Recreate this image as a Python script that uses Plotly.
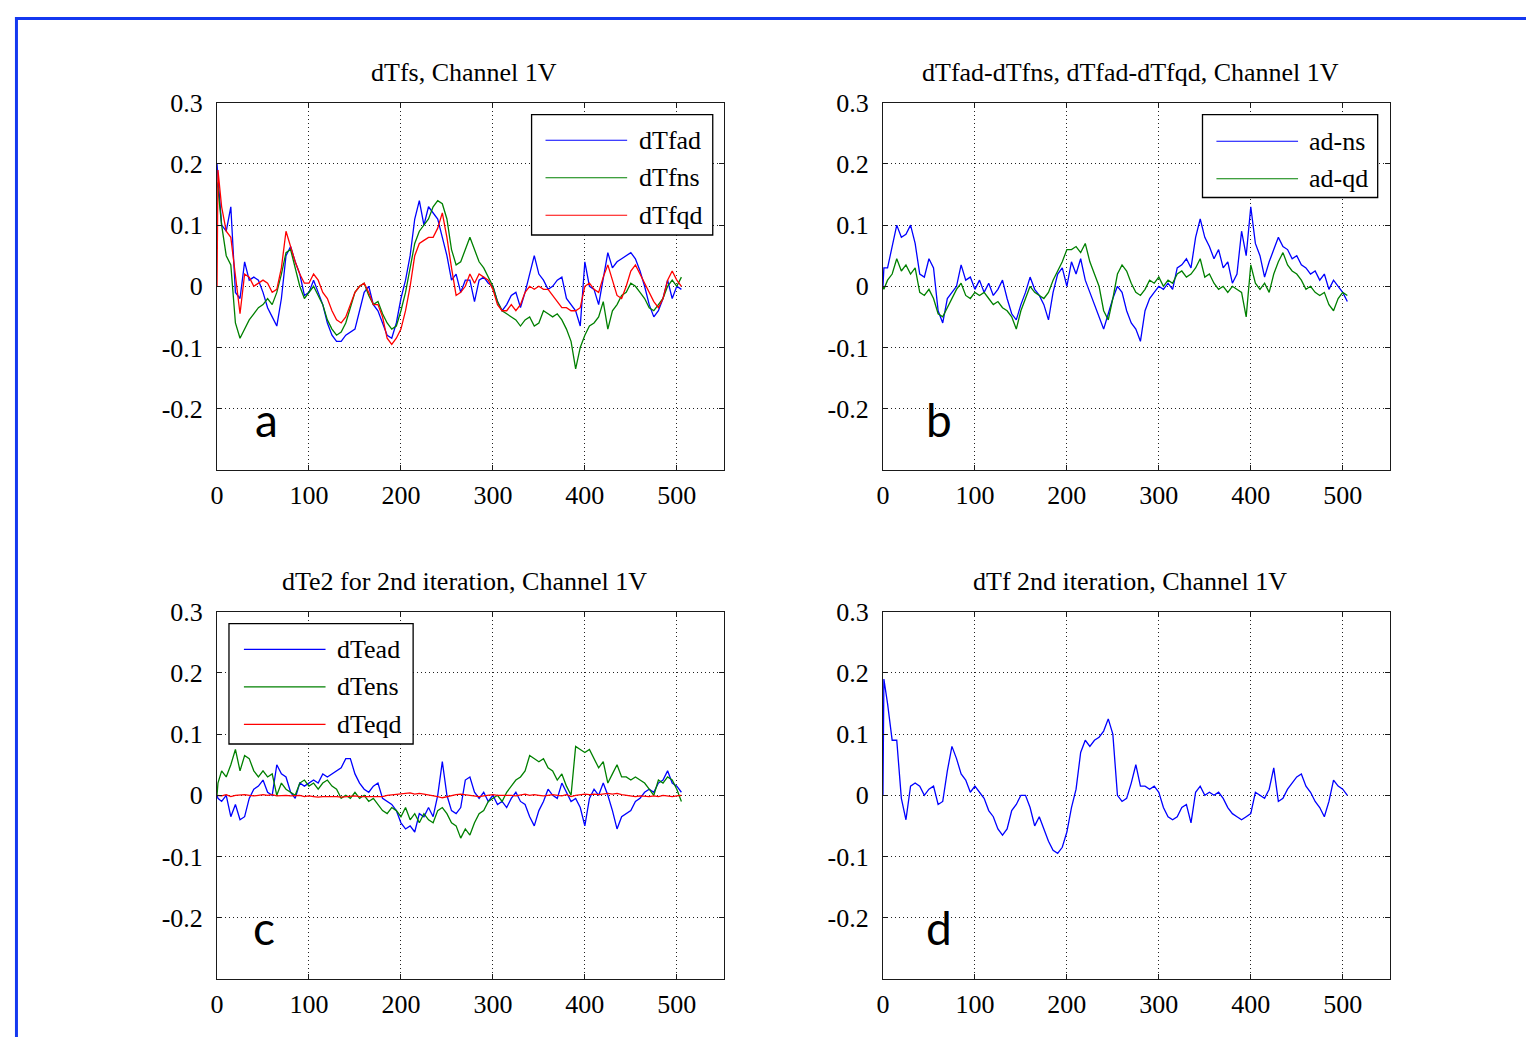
import plotly.graph_objects as go

W, H = 1526, 1037

# sample index (shared by every series)
t = [0, 1] + list(range(5, 506, 5))

# ---- panel a : dTfs, Channel 1V
dTfad = [0.20, 0.18,
         0.10, 0.09, 0.13, -0.01, -0.02, 0.04, 0.01, 0.015, 0.01, -0.01,
         -0.035, -0.05, -0.065, -0.02, 0.05, 0.065, 0.04, 0.02, -0.015, -0.01,
         0.01, -0.01, -0.03, -0.06, -0.08, -0.09, -0.09, -0.08, -0.075, -0.07,
         -0.04, -0.01, 0.0, -0.03, -0.04, -0.06, -0.08, -0.085, -0.06, -0.02,
         0.01, 0.05, 0.11, 0.14, 0.10, 0.13, 0.12, 0.11, 0.08, 0.05,
         0.01, 0.02, -0.01, 0.01, 0.01, -0.025, 0.01, 0.015, 0.005, 0.0,
         -0.025, -0.04, -0.03, -0.015, -0.01, -0.035, -0.01, 0.02, 0.05, 0.02,
         0.01, -0.005, 0.0, 0.01, 0.015, -0.02, -0.03, -0.04, -0.065, 0.04,
         0.0, -0.005, -0.03, 0.01, 0.055, 0.03, 0.04, 0.045, 0.05, 0.055,
         0.045, 0.025, 0.0, -0.03, -0.05, -0.04, -0.02, 0.01, -0.02, 0.0,
         -0.005]
dTfns = [0.17, 0.16,
         0.10, 0.05, 0.035, -0.06, -0.085, -0.07, -0.055, -0.045, -0.035, -0.03,
         -0.02, -0.03, -0.01, 0.02, 0.055, 0.06, 0.03, 0.0, -0.02, -0.01,
         0.0, -0.015, -0.03, -0.055, -0.07, -0.08, -0.075, -0.06, -0.035, -0.01,
         0.0, 0.005, -0.015, -0.03, -0.025, -0.045, -0.06, -0.07, -0.065, -0.04,
         -0.01, 0.03, 0.07, 0.09, 0.10, 0.11, 0.13, 0.14, 0.135, 0.11,
         0.06, 0.035, 0.04, 0.06, 0.08, 0.06, 0.04, 0.03, 0.015, 0.0,
         -0.025, -0.04, -0.045, -0.05, -0.055, -0.065, -0.055, -0.05, -0.065, -0.06,
         -0.04, -0.045, -0.05, -0.045, -0.055, -0.07, -0.09, -0.135, -0.10, -0.08,
         -0.065, -0.06, -0.05, -0.025, -0.07, -0.04, -0.03, -0.015, -0.01, 0.005,
         0.0, -0.01, -0.02, -0.035, -0.04, -0.03, -0.02, 0.0, 0.01, 0.0,
         0.015]
dTfqd = [0.0, 0.19,
         0.13, 0.09, 0.08, 0.02, -0.045, 0.02, 0.015, 0.0, 0.005, 0.01,
         0.005, -0.01, -0.005, 0.03, 0.09, 0.065, 0.04, 0.02, 0.005, 0.005,
         0.02, 0.01, -0.01, -0.02, -0.04, -0.055, -0.06, -0.05, -0.03, -0.01,
         0.0, 0.005, -0.01, -0.03, -0.03, -0.05, -0.085, -0.095, -0.085, -0.07,
         -0.04, 0.0, 0.05, 0.07, 0.075, 0.08, 0.08, 0.095, 0.12, 0.08,
         0.03, -0.015, -0.01, 0.0, 0.02, 0.005, 0.02, 0.015, 0.01, -0.005,
         -0.03, -0.04, -0.04, -0.03, -0.04, -0.03, -0.01, 0.0, -0.005, 0.0,
         -0.005, -0.005, -0.015, -0.025, -0.035, -0.035, -0.04, -0.04, -0.035, 0.0,
         0.005, -0.005, -0.01, 0.015, 0.035, 0.01, -0.015, -0.02, 0.0, 0.025,
         0.035, 0.02, 0.005, -0.01, -0.025, -0.035, -0.02, 0.01, 0.025, 0.01,
         0.0]

# ---- panel b : differences
ad_ns = [0.0, 0.03,
         0.03, 0.065, 0.10, 0.08, 0.085, 0.10, 0.07, 0.02, 0.015, 0.045,
         0.03, -0.04, -0.06, -0.02, -0.01, 0.0, 0.035, 0.01, 0.015, -0.005,
         0.01, -0.01, 0.005, -0.015, -0.005, 0.01, -0.02, -0.045, -0.055, -0.03,
         -0.01, 0.015, -0.005, -0.015, -0.03, -0.055, -0.01, 0.02, 0.03, 0.0,
         0.04, 0.02, 0.045, 0.01, -0.01, -0.03, -0.05, -0.07, -0.045, -0.02,
         0.0, -0.01, -0.04, -0.06, -0.07, -0.09, -0.04, -0.02, -0.01, 0.0,
         -0.005, 0.005, -0.005, 0.03, 0.035, 0.045, 0.03, 0.08, 0.11, 0.08,
         0.065, 0.045, 0.06, 0.03, 0.04, 0.005, 0.02, 0.09, 0.05, 0.13,
         0.07, 0.05, 0.015, 0.04, 0.06, 0.08, 0.065, 0.06, 0.045, 0.05,
         0.035, 0.03, 0.02, 0.025, 0.01, 0.02, -0.005, 0.01, 0.0, -0.01,
         -0.025]
ad_qd = [0.0, -0.005,
         0.01, 0.02, 0.045, 0.025, 0.035, 0.02, 0.03, -0.01, -0.015, -0.005,
         -0.02, -0.045, -0.05, -0.035, -0.02, -0.005, 0.005, -0.015, -0.02, -0.01,
         -0.015, -0.01, -0.02, -0.03, -0.025, -0.035, -0.04, -0.05, -0.07, -0.04,
         -0.02, 0.0, -0.01, -0.015, -0.02, -0.01, 0.01, 0.025, 0.04, 0.06,
         0.06, 0.065, 0.055, 0.07, 0.04, 0.02, 0.0, -0.04, -0.055, -0.02,
         0.02, 0.035, 0.025, 0.005, -0.01, -0.015, -0.005, 0.01, 0.005, 0.015,
         0.0, 0.01, 0.005, 0.02, 0.025, 0.015, 0.02, 0.03, 0.045, 0.015,
         0.02, 0.005, -0.005, 0.0, -0.01, 0.0, -0.005, -0.01, -0.05, 0.035,
         0.005, -0.005, 0.005, -0.01, 0.02, 0.04, 0.055, 0.035, 0.025, 0.02,
         0.01, -0.005, 0.0, -0.01, -0.015, -0.01, -0.03, -0.04, -0.02, -0.01,
         -0.015]

# ---- panel c : dTe2 for 2nd iteration
dTead = [0.0, -0.005,
         -0.01, 0.0, -0.035, -0.015, -0.04, -0.035, -0.005, 0.01, 0.015, 0.025,
         0.005, 0.0, 0.05, 0.035, 0.03, 0.005, -0.005, 0.02, 0.015, 0.02,
         0.025, 0.02, 0.035, 0.03, 0.035, 0.04, 0.045, 0.06, 0.06, 0.035,
         0.02, 0.01, 0.005, 0.015, 0.02, -0.005, -0.01, -0.015, -0.025, -0.045,
         -0.055, -0.05, -0.06, -0.03, -0.035, -0.02, -0.035, 0.0, 0.055, 0.0,
         -0.025, -0.03, -0.02, 0.025, 0.03, 0.005, -0.005, 0.005, -0.01, 0.0,
         -0.015, -0.01, -0.02, -0.005, 0.005, -0.01, -0.015, -0.035, -0.05, -0.025,
         -0.01, 0.01, 0.0, -0.005, 0.02, 0.005, -0.01, -0.005, -0.02, -0.05,
         -0.005, 0.01, 0.0, 0.02, 0.0, -0.025, -0.055, -0.035, -0.03, -0.025,
         -0.01, -0.005, 0.005, 0.01, 0.005, 0.02, 0.025, 0.04, 0.02, 0.015,
         0.005]
dTens = [0.0, 0.02,
         0.04, 0.03, 0.05, 0.075, 0.04, 0.065, 0.06, 0.04, 0.03, 0.04,
         0.03, 0.035, 0.0, 0.02, 0.01, 0.005, 0.0, 0.02, 0.025, 0.015,
         0.02, 0.01, 0.02, 0.025, 0.015, 0.01, -0.005, 0.0, -0.005, 0.005,
         -0.005, 0.0, -0.01, -0.005, -0.015, -0.025, -0.03, -0.02, -0.025, -0.035,
         -0.02, -0.04, -0.03, -0.045, -0.03, -0.04, -0.045, -0.025, -0.02, -0.03,
         -0.045, -0.05, -0.07, -0.055, -0.065, -0.045, -0.03, -0.025, -0.01, -0.005,
         0.0, -0.01, 0.005, 0.015, 0.025, 0.03, 0.04, 0.065, 0.06, 0.055,
         0.06, 0.045, 0.04, 0.025, 0.035, 0.015, 0.0, 0.08, 0.075, 0.07,
         0.075, 0.06, 0.045, 0.055, 0.02, 0.035, 0.05, 0.03, 0.03, 0.025,
         0.03, 0.025, 0.02, 0.01, 0.0, 0.025, 0.02, 0.03, 0.025, 0.01,
         -0.01]
dTeqd = [0.0, 0.0,
         -0.001, 0.001, -0.002, 0.0, 0.001, 0.001, 0.0, -0.001, 0.0, 0.001,
         0.0, 0.001, -0.001, 0.0, 0.0, -0.001, -0.001, 0.0, -0.002, -0.001,
         -0.002, -0.003, -0.002, -0.002, -0.001, -0.002, -0.003, -0.002, -0.002, -0.001,
         -0.002, -0.002, -0.003, -0.002, -0.003, -0.002, 0.0, 0.001, 0.002, 0.003,
         0.003, 0.004, 0.002, 0.003, 0.002, 0.001, 0.0, -0.002, -0.004, -0.002,
         0.0, 0.001, 0.002, 0.001, 0.0, 0.0, -0.002, -0.001, 0.0, 0.001,
         0.0, 0.0, 0.001, 0.0, -0.001, 0.0, 0.002, 0.0, 0.001, 0.0,
         -0.001, 0.0, 0.001, 0.0, -0.001, 0.001, -0.002, 0.0, 0.001, 0.002,
         0.001, 0.002, 0.001, 0.002, 0.003, 0.002, 0.003, 0.001, 0.0, -0.001,
         -0.002, -0.001, -0.002, -0.002, -0.001, -0.002, 0.0, -0.001, -0.002, -0.001,
         0.0]

# ---- panel d : dTf 2nd iteration
dTf2 = [0.0, 0.19,
        0.15, 0.09, 0.09, -0.005, -0.04, 0.015, 0.02, 0.015, 0.0, 0.01,
        0.015, -0.015, -0.01, 0.04, 0.08, 0.06, 0.035, 0.025, 0.005, 0.015,
        0.005, -0.005, -0.025, -0.035, -0.055, -0.065, -0.055, -0.025, -0.015, 0.0,
        0.0, -0.02, -0.05, -0.035, -0.055, -0.075, -0.09, -0.095, -0.085, -0.06,
        -0.02, 0.01, 0.07, 0.09, 0.08, 0.09, 0.095, 0.105, 0.125, 0.1,
        0.0, -0.01, -0.005, 0.02, 0.05, 0.015, 0.015, 0.01, 0.015, 0.005,
        -0.02, -0.035, -0.04, -0.035, -0.02, -0.015, -0.045, 0.005, 0.015, 0.0,
        0.005, 0.0, 0.005, -0.005, -0.02, -0.03, -0.035, -0.04, -0.035, -0.03,
        0.005, 0.0, -0.005, 0.01, 0.045, -0.01, -0.005, 0.01, 0.02, 0.03,
        0.035, 0.015, 0.005, -0.01, -0.02, -0.035, -0.01, 0.025, 0.015, 0.01,
        0.0]

for s in (dTfad, dTfns, dTfqd, ad_ns, ad_qd, dTead, dTens, dTeqd, dTf2):
    assert len(s) == len(t), len(s)

x_ticks = [0, 100, 200, 300, 400, 500]
y_ticks = [-0.2, -0.1, 0, 0.1, 0.2, 0.3]
y_ticktext = ["-0.2", "-0.1", "0", "0.1", "0.2", "0.3"]
titles = ["dTfs, Channel 1V",
          "dTfad-dTfns, dTfad-dTfqd, Channel 1V",
          "dTe2 for 2nd iteration, Channel 1V",
          "dTf 2nd iteration, Channel 1V"]
letters = ["a", "b", "c", "d"]

BLUE, GREEN, RED = "#0000ff", "#008000", "#ff0000"
panels = [
    [("dTfad", dTfad, BLUE), ("dTfns", dTfns, GREEN), ("dTfqd", dTfqd, RED)],
    [("ad-ns", ad_ns, BLUE), ("ad-qd", ad_qd, GREEN)],
    [("dTead", dTead, BLUE), ("dTens", dTens, GREEN), ("dTeqd", dTeqd, RED)],
    [("dTf", dTf2, BLUE)],
]

# ---- layout geometry (pixels)
def px(x):
    return x / W

def py(y):
    return 1 - y / H

col_px = [(211, 720), (880, 1389)]
row_px = [(90, 462), (606, 978)]
SERIF = "Liberation Serif, Times New Roman, serif"
INK = "#1a1a1a"
FS = 26

fig = go.Figure()
layout = dict(
    width=W, height=H, margin=dict(l=0, r=0, t=0, b=0, pad=0),
    paper_bgcolor="white", plot_bgcolor="white", showlegend=False,
    font=dict(family=SERIF, size=FS, color="black"),
)
annotations = []
shapes = []

legend_geo = {
    0: dict(box=(527, 102, 709, 224), rows=[128, 166, 204], line=(541, 623), text=633),
    1: dict(box=(1201, 102, 1377, 186), rows=[129, 167], line=(1215, 1297), text=1306),
    2: dict(box=(223, 618, 408, 740), rows=[644, 682, 720], line=(238, 320), text=330),
}
letter_pos = [(261, 411), (936, 411), (258, 926), (936, 926)]

for i, series in enumerate(panels):
    r, c = divmod(i, 2)
    sfx = "" if i == 0 else str(i + 1)
    x0, x1 = col_px[c]
    y0, y1 = row_px[r]
    for name, vals, col in series:
        fig.add_trace(go.Scatter(x=t, y=vals, mode="lines", name=name,
                                 line=dict(color=col, width=1.3),
                                 xaxis="x" + sfx, yaxis="y" + sfx))
    common = dict(showline=True, linecolor=INK, linewidth=1, mirror="ticks",
                  ticks="inside", ticklen=5, tickcolor=INK, tickwidth=1,
                  showgrid=True, gridcolor="#222222", gridwidth=1, griddash="1px,3px",
                  zeroline=False, tickfont=dict(family=SERIF, size=FS, color="black"))
    layout["xaxis" + sfx] = dict(common, domain=[px(x0), px(x1)], anchor="y" + sfx,
                                 range=[0, 551], tickmode="array", tickvals=x_ticks,
                                 ticklabelstandoff=2)
    layout["yaxis" + sfx] = dict(common, domain=[py(y1), py(y0)], anchor="x" + sfx,
                                 range=[-0.3, 0.3], tickmode="array", tickvals=y_ticks,
                                 ticktext=y_ticktext, ticklabelstandoff=8)
    annotations.append(dict(text=titles[i], xref="paper", yref="paper",
                            x=px((x0 + x1) / 2 - 6), y=py(y0 - 31),
                            xanchor="center", yanchor="middle", showarrow=False,
                            font=dict(family=SERIF, size=FS, color="black")))
    lx, ly = letter_pos[i]
    annotations.append(dict(text=letters[i], xref="paper", yref="paper",
                            x=px(lx), y=py(ly), xanchor="center", yanchor="middle",
                            showarrow=False,
                            font=dict(family="Lato, Open Sans, sans-serif", size=46, color="black")))
    if i in legend_geo:
        g = legend_geo[i]
        bx0, by0, bx1, by1 = g["box"]
        shapes.append(dict(type="rect", xref="paper", yref="paper",
                           x0=px(bx0), x1=px(bx1), y0=py(by1), y1=py(by0),
                           line=dict(color="black", width=1.3), fillcolor="white",
                           layer="above"))
        for (name, vals, col), ry in zip(series, g["rows"]):
            shapes.append(dict(type="line", xref="paper", yref="paper",
                               x0=px(g["line"][0]), x1=px(g["line"][1]),
                               y0=py(ry), y1=py(ry),
                               line=dict(color=col, width=1.2), layer="above"))
            annotations.append(dict(text=name, xref="paper", yref="paper",
                                    x=px(g["text"]), y=py(ry), xanchor="left",
                                    yanchor="middle", showarrow=False,
                                    font=dict(family=SERIF, size=FS, color="black")))

# blue frame on the top and left edges of the figure
shapes.append(dict(type="rect", xref="paper", yref="paper", x0=px(8), x1=1,
                   y0=py(6), y1=py(3), line=dict(width=0), fillcolor="#1438f0",
                   layer="above"))
shapes.append(dict(type="rect", xref="paper", yref="paper", x0=px(8), x1=px(11),
                   y0=0, y1=py(3), line=dict(width=0), fillcolor="#1438f0",
                   layer="above"))

layout["annotations"] = annotations
layout["shapes"] = shapes
fig.update_layout(**layout)
fig.write_html("out.html")
